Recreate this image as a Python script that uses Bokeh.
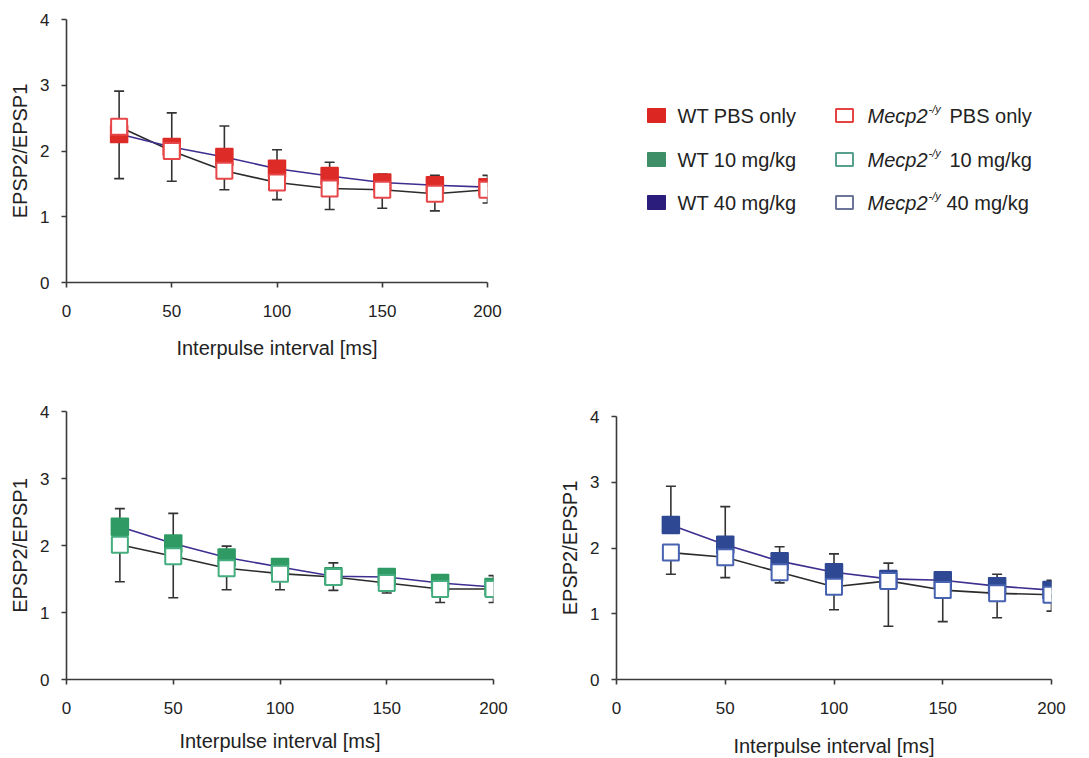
from bokeh.plotting import figure
from bokeh.models import Whisker, ColumnDataSource, TeeHead, Label, Range1d
from bokeh.layouts import column, row
from bokeh.embed import file_html
from bokeh.resources import INLINE

FONT = "Liberation Sans"

intervals = [25, 50, 75, 100, 125, 150, 175, 200]
x_ticks = [0, 50, 100, 150, 200]
y_ticks = [0, 1, 2, 3, 4]

# Panel A: PBS only
wt_pbs = [2.26, 2.06, 1.91, 1.73, 1.62, 1.52, 1.48, 1.45]
wt_pbs_sem = [0.65, 0.52, 0.47, 0.29, 0.21, 0.13, 0.15, 0.18]
ko_pbs = [2.37, 2.00, 1.70, 1.52, 1.43, 1.41, 1.35, 1.41]
ko_pbs_sem = [0.79, 0.46, 0.29, 0.26, 0.32, 0.28, 0.26, 0.20]

# Panel B: 10 mg/kg
wt_10 = [2.28, 2.03, 1.82, 1.68, 1.54, 1.53, 1.44, 1.38]
wt_10_sem = [0.27, 0.45, 0.17, 0.09, 0.20, 0.06, 0.10, 0.17]
ko_10 = [2.01, 1.84, 1.66, 1.58, 1.53, 1.44, 1.35, 1.35]
ko_10_sem = [0.55, 0.62, 0.32, 0.24, 0.20, 0.15, 0.20, 0.20]

# Panel C: 40 mg/kg
wt_40 = [2.35, 2.05, 1.80, 1.63, 1.53, 1.51, 1.42, 1.36]
wt_40_sem = [0.59, 0.58, 0.22, 0.28, 0.24, 0.12, 0.18, 0.15]
ko_40 = [1.93, 1.86, 1.63, 1.41, 1.50, 1.36, 1.31, 1.29]
ko_40_sem = [0.33, 0.31, 0.16, 0.35, 0.69, 0.48, 0.37, 0.25]

legend_wt = ["WT PBS only", "WT 10 mg/kg", "WT 40 mg/kg"]
legend_ko = ["PBS only", "10 mg/kg", "40 mg/kg"]

WT_LINE = "#3d2e8f"
KO_LINE = "#2b2b2b"
AX = "#3a3a3a"


def make_panel(wt, wt_sem, ko, ko_sem, fill, edge, fw, fh, left, right, top, bottom, lab_sd):
    p = figure(width=left + fw + right, height=top + fh + bottom,
               frame_width=fw, frame_height=fh, frame_align=False,
               min_border_left=left, min_border_right=right,
               min_border_top=top, min_border_bottom=bottom,
               x_range=Range1d(0, 200), y_range=Range1d(0, 4),
               output_backend="svg", toolbar_location=None)
    p.outline_line_color = None
    p.xgrid.visible = False
    p.ygrid.visible = False
    p.background_fill_color = "white"
    p.border_fill_color = "white"

    src = ColumnDataSource(dict(
        x=intervals, wt=wt, ko=ko,
        wt_hi=[m + s for m, s in zip(wt, wt_sem)],
        ko_lo=[m - s for m, s in zip(ko, ko_sem)],
    ))
    w1 = Whisker(source=src, base="x", lower="wt", upper="wt_hi",
                 line_color="#333333", line_width=1.6, level="underlay",
                 upper_head=TeeHead(size=10, line_color="#333333", line_width=1.6),
                 lower_head=None)
    w2 = Whisker(source=src, base="x", lower="ko_lo", upper="ko",
                 line_color="#333333", line_width=1.6, level="underlay",
                 lower_head=TeeHead(size=10, line_color="#333333", line_width=1.6),
                 upper_head=None)
    p.add_layout(w1)
    p.add_layout(w2)

    p.line("x", "ko", source=src, line_color=KO_LINE, line_width=1.6)
    p.line("x", "wt", source=src, line_color=WT_LINE, line_width=1.6)
    p.scatter("x", "wt", source=src, marker="square", size=17,
              fill_color=fill, line_color=fill, line_width=1.5)
    p.scatter("x", "ko", source=src, marker="square", size=16,
              fill_color="white", line_color=edge, line_width=2)

    for ax in (p.xaxis[0], p.yaxis[0]):
        ax.axis_line_color = AX
        ax.axis_line_width = 1.6
        ax.major_tick_line_color = AX
        ax.major_tick_line_width = 1.6
        ax.major_tick_out = 5
        ax.major_tick_in = 0
        ax.minor_tick_line_color = None
        ax.major_label_text_font = FONT
        ax.major_label_text_font_size = "17px"
        ax.major_label_text_color = "#222222"
        ax.axis_label_text_font = FONT
        ax.axis_label_text_font_size = "20px"
        ax.axis_label_text_font_style = "normal"
        ax.axis_label_text_color = "#222222"
    p.xaxis.ticker = x_ticks
    p.yaxis.ticker = y_ticks
    p.xaxis.axis_label = "Interpulse interval [ms]"
    p.yaxis.axis_label = "EPSP2/EPSP1"
    p.xaxis.major_label_standoff = 17
    p.xaxis.axis_label_standoff = lab_sd
    p.yaxis.major_label_standoff = 12
    p.yaxis.axis_label_standoff = 6
    return p


top = make_panel(wt_pbs, wt_pbs_sem, ko_pbs, ko_pbs_sem, "#dd2b27", "#e8474a",
                 421, 263, 66, 53, 19, 88, 17)
bl = make_panel(wt_10, wt_10_sem, ko_10, ko_10_sem, "#2f9a64", "#45ad7f",
                427, 268, 66, 57, 41, 79, 13)
br = make_panel(wt_40, wt_40_sem, ko_40, ko_40_sem, "#2e4893", "#4762b0",
                435, 263, 66, 38, 46, 79, 18)

# Legend panel
lg = figure(width=549, height=370, frame_width=549, frame_height=370, frame_align=False,
            x_range=Range1d(0, 549), y_range=Range1d(0, 370),
            x_axis_type=None, y_axis_type=None,
            min_border=0, output_backend="svg", toolbar_location=None)
lg.outline_line_color = None
lg.xgrid.visible = False
lg.ygrid.visible = False

wt_legend_fill = ["#dc2622", "#3e8e68", "#2b1d7c"]
ko_legend_edge = ["#e54445", "#58a08e", "#6b7599"]
row_y = [370 - 115, 370 - 159, 370 - 202]
lg.rect(x=[116] * 3, y=row_y, width=18, height=14,
        fill_color=wt_legend_fill, line_color=wt_legend_fill)
lg.rect(x=[304] * 3, y=row_y, width=17, height=13,
        fill_color="white", line_color=ko_legend_edge, line_width=2)
ko_text_x = [409, 409, 406]
for i in range(3):
    lg.add_layout(Label(x=137, y=row_y[i], text=legend_wt[i], text_font=FONT,
                        text_font_size="20px", text_color="#222222",
                        text_baseline="middle", text_align="left"))
    lg.add_layout(Label(x=327, y=row_y[i], text="Mecp2", text_font=FONT,
                        text_font_size="20px", text_font_style="italic",
                        text_color="#222222",
                        text_baseline="middle", text_align="left"))
    lg.add_layout(Label(x=388, y=row_y[i] + 7, text="-/y", text_font=FONT,
                        text_font_size="11px", text_font_style="italic",
                        text_color="#222222",
                        text_baseline="middle", text_align="left"))
    lg.add_layout(Label(x=ko_text_x[i], y=row_y[i], text=legend_ko[i], text_font=FONT,
                        text_font_size="20px", text_color="#222222",
                        text_baseline="middle", text_align="left"))

layout = column(row(top, lg), row(bl, br))
open("out.html", "w").write(file_html(layout, INLINE))
